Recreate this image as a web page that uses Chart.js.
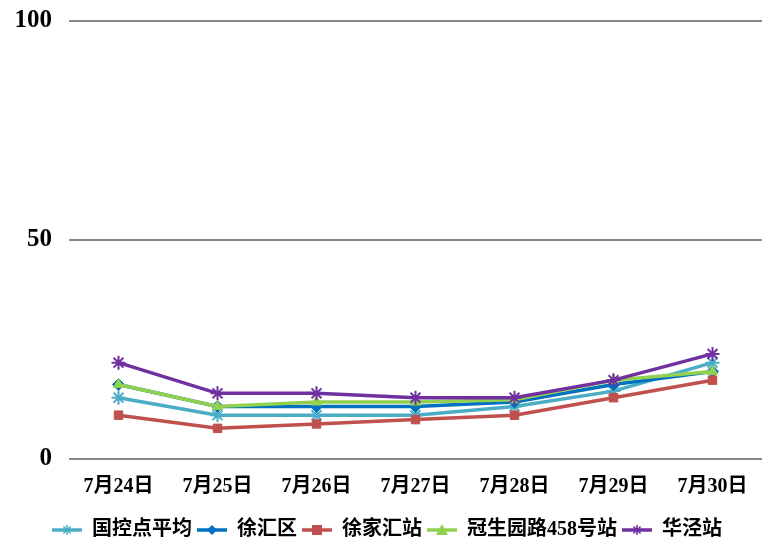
<!DOCTYPE html>
<html>
<head>
<meta charset="UTF-8">
<title>站点数据 7月24日-7月30日</title>
<style>
  html, body { margin: 0; padding: 0; background: #fff; }
  #box { position: relative; width: 778px; height: 558px; }
</style>
</head>
<body>
<div id="box">
  <canvas id="chart"></canvas>
</div>

<script src="https://cdn.jsdelivr.net/npm/chart.js@4/dist/chart.umd.min.js"></script>
<script>
  // values
  var days = ['7月24日', '7月25日', '7月26日', '7月27日', '7月28日', '7月29日', '7月30日'];
  var guokong = [14, 10, 10, 10, 12, 15.5, 22];
  var xuhui = [17, 12, 12, 12, 13, 17, 20];
  var xujiahui = [10, 7, 8, 9, 10, 14, 18];
  var guanshengyuan = [17, 12, 13, 13, 13.5, 18, 20];
  var huajing = [22, 15, 15, 14, 14, 18, 24];
  var yTicks = [0, 50, 100];

  var fontFamily = '"Liberation Serif", "Noto Sans CJK SC", serif';

  // small picture for the legend: a line with the marker in the middle
  var legendIcon = function(color, style) {
    var c = document.createElement('canvas');
    c.width = 30;
    c.height = 14;
    var g = c.getContext('2d');
    var cx = 15, cy = 7, r = 5;
    g.strokeStyle = color;
    g.fillStyle = color;
    g.lineWidth = 3.5;
    g.beginPath();
    g.moveTo(0, cy);
    g.lineTo(30, cy);
    g.stroke();
    g.lineWidth = 1.5;
    g.beginPath();
    if (style == 'rect') {
      g.fillRect(cx - r, cy - r, r * 2, r * 2);
    } else if (style == 'rectRot') {
      g.moveTo(cx, cy - r); g.lineTo(cx + r, cy); g.lineTo(cx, cy + r); g.lineTo(cx - r, cy);
      g.closePath(); g.fill();
    } else if (style == 'triangle') {
      g.moveTo(cx, cy - r - 1); g.lineTo(cx + r + 1, cy + r); g.lineTo(cx - r - 1, cy + r);
      g.closePath(); g.fill();
    } else {
      for (var a = 0; a < 4; a++) {
        var ang = a * Math.PI / 4;
        g.moveTo(cx - Math.cos(ang) * r, cy - Math.sin(ang) * r);
        g.lineTo(cx + Math.cos(ang) * r, cy + Math.sin(ang) * r);
      }
      g.stroke();
    }
    return c;
  };

  var series = [
    { label: '国控点平均', data: guokong, color: '#4BACC6', style: 'star', order: 4 },
    { label: '徐汇区', data: xuhui, color: '#0070C0', style: 'rectRot', order: 3 },
    { label: '徐家汇站', data: xujiahui, color: '#C0504D', style: 'rect', order: 2 },
    { label: '冠生园路458号站', data: guanshengyuan, color: '#92D050', style: 'triangle', order: 1 },
    { label: '华泾站', data: huajing, color: '#7030A0', style: 'star', order: 0 }
  ];

  var datasets = series.map(function(s) {
    return {
      label: s.label,
      data: s.data,
      order: s.order,
      borderColor: s.color,
      backgroundColor: s.color,
      borderWidth: 3.5,
      pointStyle: s.style,
      pointRadius: s.style == 'star' ? 7 : 6,
      pointBorderWidth: s.style == 'star' ? 2 : 1,
      pointBorderColor: s.color,
      pointBackgroundColor: s.color,
      tension: 0,
      fill: false,
      icon: legendIcon(s.color, s.style)
    };
  });

  var ctx = document.getElementById('chart');

  var chart = new Chart(ctx, {
    type: 'line',
    data: { labels: days, datasets: datasets },
    options: {
      responsive: true,
      maintainAspectRatio: false,
      animation: false,
      layout: { padding: { left: 12, right: 16, top: 0, bottom: 8 } },
      plugins: {
        tooltip: { enabled: false },
        legend: {
          position: 'bottom',
          labels: {
            usePointStyle: true,
            pointStyleWidth: 30,
            padding: 5,
            color: '#000',
            font: { family: fontFamily, size: 20, weight: 'bold' },
            generateLabels: function(chart) {
              return chart.data.datasets.map(function(ds, i) {
                return {
                  text: ds.label,
                  pointStyle: ds.icon,
                  fillStyle: ds.borderColor,
                  strokeStyle: ds.borderColor,
                  lineWidth: 0,
                  hidden: false,
                  datasetIndex: i
                };
              });
            }
          }
        }
      },
      scales: {
        x: {
          offset: true,
          grid: { display: false, drawTicks: false },
          border: { display: false },
          ticks: {
            color: '#000',
            padding: 16,
            maxRotation: 0,
            font: { family: fontFamily, size: 20, weight: 'bold' }
          }
        },
        y: {
          min: 0,
          max: 100,
          afterBuildTicks: function(scale) {
            scale.ticks = yTicks.map(function(v) { return { value: v }; });
          },
          afterFit: function(scale) {
            scale.width = 57;
            scale.paddingTop = 21;
          },
          grid: { color: '#888888', lineWidth: 2, drawTicks: false },
          border: { display: false },
          ticks: {
            color: '#000',
            padding: 17,
            font: { family: fontFamily, size: 25, weight: 'bold', lineHeight: 1 }
          }
        }
      }
    }
  });
</script>
</body>
</html>
